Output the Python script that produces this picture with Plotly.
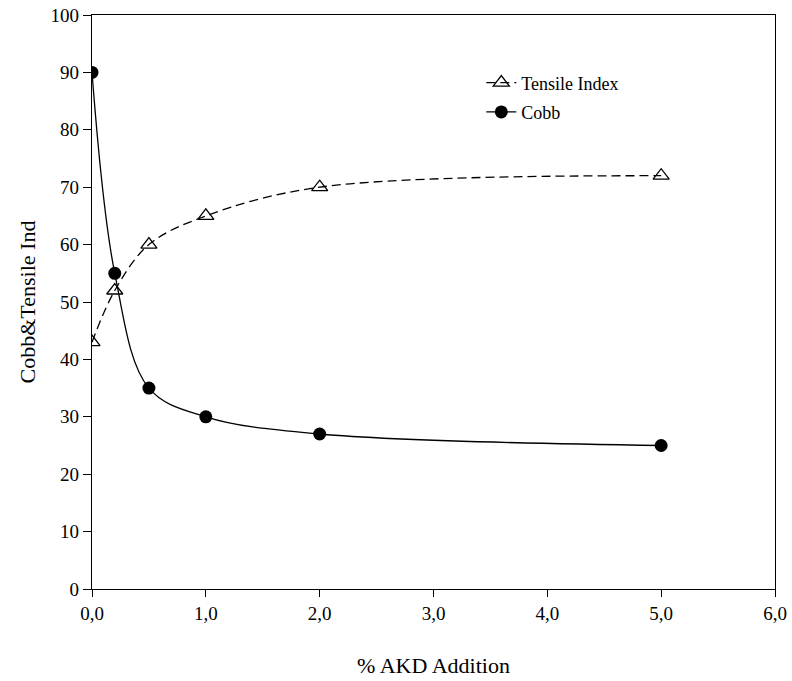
import plotly.graph_objects as go

akd = [0.0, 0.2, 0.5, 1.0, 2.0, 5.0]
tensile_index = [43, 52, 60, 65, 70, 72]
cobb = [90, 55, 35, 30, 27, 25]

FONT = "Liberation Serif, Times New Roman, serif"

fig = go.Figure()
fig.add_trace(go.Scatter(
    x=akd, y=tensile_index, name="Tensile Index", mode="lines+markers",
    legendgroup="t",
    line=dict(color="black", width=1.3, dash="9px,5px", shape="spline", smoothing=1),
    marker=dict(symbol="triangle-up-open", size=14, color="black", line=dict(width=1.3)),
))
fig.add_trace(go.Scatter(
    x=akd, y=cobb, name="Cobb", mode="lines+markers",
    legendgroup="c",
    line=dict(color="black", width=1.3, shape="spline", smoothing=1),
    marker=dict(symbol="circle", size=13, color="black"),
))

fig.update_layout(
    width=792, height=681,
    margin=dict(l=92, r=17, t=15, b=92),
    paper_bgcolor="white", plot_bgcolor="white",
    font=dict(family=FONT, size=18, color="black"),
    separators=",.",
    showlegend=True,
    legend=dict(x=0.57, y=0.914, xanchor="left", yanchor="top",
                traceorder="grouped", tracegroupgap=3,
                bgcolor="rgba(0,0,0,0)", font=dict(size=18)),
    xaxis=dict(range=[0, 6], tickvals=[0, 1, 2, 3, 4, 5, 6], tickformat=".1f",
               showgrid=False, zeroline=False, showline=True, linecolor="black",
               linewidth=1.3, mirror=True, ticks="outside", ticklen=7,
               tickcolor="black", tickwidth=1.3, automargin=False,
               tickfont=dict(size=19),
               title=dict(text="% AKD Addition", standoff=34)),
    yaxis=dict(range=[0, 100], dtick=10, showgrid=False, zeroline=False,
               showline=True, linecolor="black", linewidth=1.3, mirror=True,
               ticks="outside", ticklen=8, tickcolor="black", tickwidth=1.3,
               automargin=False, tickfont=dict(size=19),
               title=dict(text="Cobb&Tensile Ind", standoff=8)),
)

fig.write_html("out.html", config={"displayModeBar": False},
               post_script="document.body.style.margin='0';document.body.style.overflow='hidden';")
